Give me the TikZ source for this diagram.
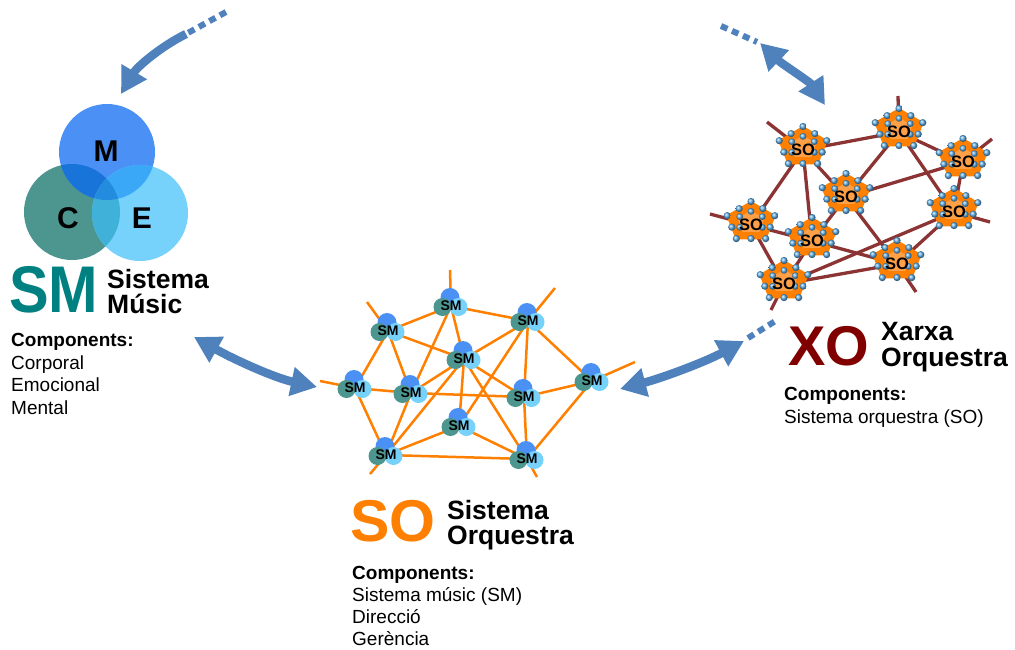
\documentclass[tikz,border=0pt]{standalone}
\usepackage{fontspec}
\setmainfont{Liberation Sans}
\usetikzlibrary{arrows.meta}

\definecolor{arrowblue}{RGB}{79,129,189}
\definecolor{mblue}{RGB}{75,145,245}
\definecolor{cteal}{RGB}{77,150,143}
\definecolor{eblue}{RGB}{118,210,250}
\definecolor{mcmix}{RGB}{24,116,216}
\definecolor{memix}{RGB}{58,168,246}
\definecolor{cemix}{RGB}{64,178,218}
\definecolor{mcemix}{RGB}{35,140,222}
\definecolor{smteal}{RGB}{0,128,128}
\definecolor{soorange}{RGB}{255,128,0}
\definecolor{solight}{RGB}{255,160,70}
\definecolor{xored}{RGB}{128,0,0}
\definecolor{xoline}{RGB}{140,52,52}
\definecolor{dotblue}{RGB}{95,175,232}

\begin{document}
\begin{tikzpicture}[x=1pt,y=-1pt,
  >={Triangle[length=26pt,width=28pt]},
  bigarrow/.style={draw=arrowblue,line width=8.5pt},
  dashpart/.style={draw=arrowblue,line width=6pt,dash pattern=on 7pt off 5pt},
  soedge/.style={draw=soorange,line width=2.5pt},
  xoedge/.style={draw=xoline,line width=3.3pt},
  smlab/.style={inner sep=0pt,font=\bfseries\fontsize{14}{14}\selectfont},
  solab/.style={inner sep=0pt,font=\bfseries\fontsize{16.5}{16.5}\selectfont},
  vennlab/.style={inner sep=0pt,font=\bfseries\fontsize{30}{30}\selectfont},
  bigtitle/.style={anchor=base west,inner sep=0pt,font=\bfseries\fontsize{#1}{#1}\selectfont},
  subtitle/.style={anchor=base west,inner sep=0pt,font=\bfseries\fontsize{26.5}{26.5}\selectfont},
  headtxt/.style={anchor=base west,inner sep=0pt,font=\bfseries\fontsize{19}{19}\selectfont},
  bodytxt/.style={anchor=base west,inner sep=0pt,font=\fontsize{19}{19}\selectfont},
  smicon/.pic={
    \fill[mblue] (-1,-8.5) circle (9.5);
    \fill[eblue] (7.5,1) circle (9);
    \fill[cteal] (-8.5,1) circle (9);
  },
  soicon/.pic={
    \fill[soorange,rounded corners=2pt]
      (0,-24) -- (24.7,-9.6) -- (15.3,14.3) -- (-15.3,14.3) -- (-24.7,-9.6) -- cycle;
    \fill[solight]
      (0,-14.5) -- (13.3,-6.4) -- (8.2,6.8) -- (-8.2,6.8) -- (-13.3,-6.4) -- cycle;
    \foreach \a in {-90,-18,54,126,198}
      \shade[ball color=dotblue] ({25*cos(\a)},{0.82*25*sin(\a)-3}) circle (3.6);
    \foreach \a in {-54,18,90,162,234}
      \shade[ball color=dotblue] ({20.2*cos(\a)},{0.82*20.2*sin(\a)-3}) circle (3.6);
    \foreach \a in {-90,-30,30,150,210}
      \shade[ball color=dotblue] ({13*cos(\a)},{0.82*13*sin(\a)-3}) circle (3.4);
  }
]
\useasboundingbox (0,0) rectangle (1015,649);

% ---------- Sistema Músic: three overlapping circles ----------
\coordinate (vm) at (107,152);
\coordinate (vc) at (72,212);
\coordinate (ve) at (140,213);
\fill[cteal] (vc) circle (48);
\fill[mblue] (vm) circle (48);
\fill[eblue] (ve) circle (48);
\begin{scope}\clip (vm) circle (48); \fill[mcmix] (vc) circle (48);\end{scope}
\begin{scope}\clip (vm) circle (48); \fill[memix] (ve) circle (48);\end{scope}
\begin{scope}\clip (vc) circle (48); \fill[cemix] (ve) circle (48);\end{scope}
\begin{scope}\clip (vm) circle (48); \clip (vc) circle (48); \fill[mcemix] (ve) circle (48);\end{scope}
\node[vennlab] (lm) at (106,151) {M};
\node[vennlab] (lc) at (68,218) {C};
\node[vennlab] (le) at (142,218) {E};

\node[bigtitle=66,text=smteal,xscale=0.9] (smbig) at (9,312) {SM};
\node[subtitle] (smt1) at (107,288) {Sistema};
\node[subtitle] (smt2) at (107,313) {Músic};
\node[headtxt] (smh) at (11,346) {Components:};
\node[bodytxt] (smc1) at (11,369) {Corporal};
\node[bodytxt] (smc2) at (11,391) {Emocional};
\node[bodytxt] (smc3) at (11,414) {Mental};

% ---------- Sistema Orquestra: network of SM ----------
\coordinate (A) at (388,331);
\coordinate (B) at (451,306);
\coordinate (C) at (528,321);
\coordinate (D) at (464,359);
\coordinate (E) at (355,388);
\coordinate (F) at (411,393);
\coordinate (G) at (524,397);
\coordinate (H) at (592,381);
\coordinate (I) at (459,426);
\coordinate (J) at (386,455);
\coordinate (K) at (527,459);
\coordinate (sA) at (367,302);
\coordinate (sB) at (450,270);
\coordinate (sC) at (555,288);
\coordinate (sE) at (320,381);
\coordinate (sH) at (635,362);
\coordinate (sJ) at (370,474);
\coordinate (sK) at (537,477);

\foreach \p/\q in {A/B,A/D,A/E,A/F,B/C,B/D,B/F,C/D,C/G,C/H,C/I,D/F,D/G,D/I,D/J,D/K,
                   E/F,E/J,F/G,F/J,G/H,G/K,H/K,I/J,I/K,J/K,
                   A/sA,B/sB,C/sC,E/sE,H/sH,J/sJ,K/sK}
  \draw[soedge] (\p) -- (\q);

\foreach \n in {A,B,C,D,E,F,G,H,I,J,K}{
  \pic at (\n) {smicon};
  \node[smlab] (\n-lab) at (\n) {SM};
}

\node[bigtitle=59,text=soorange] (sobig) at (350,541) {SO};
\node[subtitle] (sot1) at (447,519) {Sistema};
\node[subtitle] (sot2) at (447,544) {Orquestra};
\node[headtxt] (soh) at (352,579) {Components:};
\node[bodytxt] (soc1) at (352,601) {Sistema músic (SM)};
\node[bodytxt] (soc2) at (352,623) {Direcció};
\node[bodytxt] (soc3) at (352,645) {Gerència};

% ---------- Xarxa Orquestra: network of SO ----------
\coordinate (O1) at (803,150);
\coordinate (O2) at (899,132);
\coordinate (O3) at (963,162);
\coordinate (O4) at (846,197);
\coordinate (O5) at (751,225);
\coordinate (O6) at (954,212);
\coordinate (O7) at (812,241);
\coordinate (O8) at (897,264);
\coordinate (O9) at (784,284);
\coordinate (t1) at (767,122);
\coordinate (t2) at (898,96);
\coordinate (t3) at (992,139);
\coordinate (t5) at (710,214);
\coordinate (t6) at (990,222);
\coordinate (t8) at (916,292);
\coordinate (t9) at (771,310);

\foreach \p/\q in {O1/O2,O1/O4,O1/O5,O1/O7,O2/O3,O2/O4,O2/O6,O3/O4,O3/O6,O4/O7,O4/O8,
                   O5/O7,O5/O9,O6/O8,O6/O9,O7/O8,O7/O9,O8/O9,
                   O1/t1,O2/t2,O3/t3,O5/t5,O6/t6,O8/t8,O9/t9}
  \draw[xoedge] (\p) -- (\q);

\foreach \n in {O1,O2,O3,O4,O5,O6,O7,O8,O9}{
  \pic at (\n) {soicon};
  \node[solab] (\n-lab) at (\n) {SO};
}

\node[bigtitle=56,text=xored] (xobig) at (788,365) {XO};
\node[subtitle] (xot1) at (881,340) {Xarxa};
\node[subtitle] (xot2) at (881,366) {Orquestra};
\node[headtxt] (xoh) at (784,400) {Components:};
\node[bodytxt] (xoc1) at (784,423) {Sistema orquestra (SO)};

% ---------- Arrows between the levels ----------
\coordinate (a1s) at (226,12);
\coordinate (a1m) at (186,34);
\coordinate (a1e) at (121,94);
\draw[dashpart] (a1s) -- (a1m);
\draw[bigarrow,->] (a1m) .. controls (160,47) and (137,67) .. (a1e);

\coordinate (a2s) at (194,337);
\coordinate (a2e) at (317,387);
\draw[bigarrow,<->] (a2s) .. controls (235,360) and (275,378) .. (a2e);

\coordinate (a3s) at (620,389);
\coordinate (a3e) at (744,341);
\coordinate (a3t) at (748,338);
\coordinate (a3d) at (777,320);
\draw[bigarrow,<->] (a3s) .. controls (662,378) and (705,362) .. (a3e);
\draw[dashpart] (a3t) -- (a3d);

\coordinate (a4d) at (721,26);
\coordinate (a4t) at (757,42);
\coordinate (a4s) at (760,43);
\coordinate (a4e) at (825,105);
\draw[dashpart] (a4d) -- (a4t);
\draw[bigarrow,<->] (a4s) .. controls (782,64) and (810,82) .. (a4e);
\end{tikzpicture}
\end{document}
